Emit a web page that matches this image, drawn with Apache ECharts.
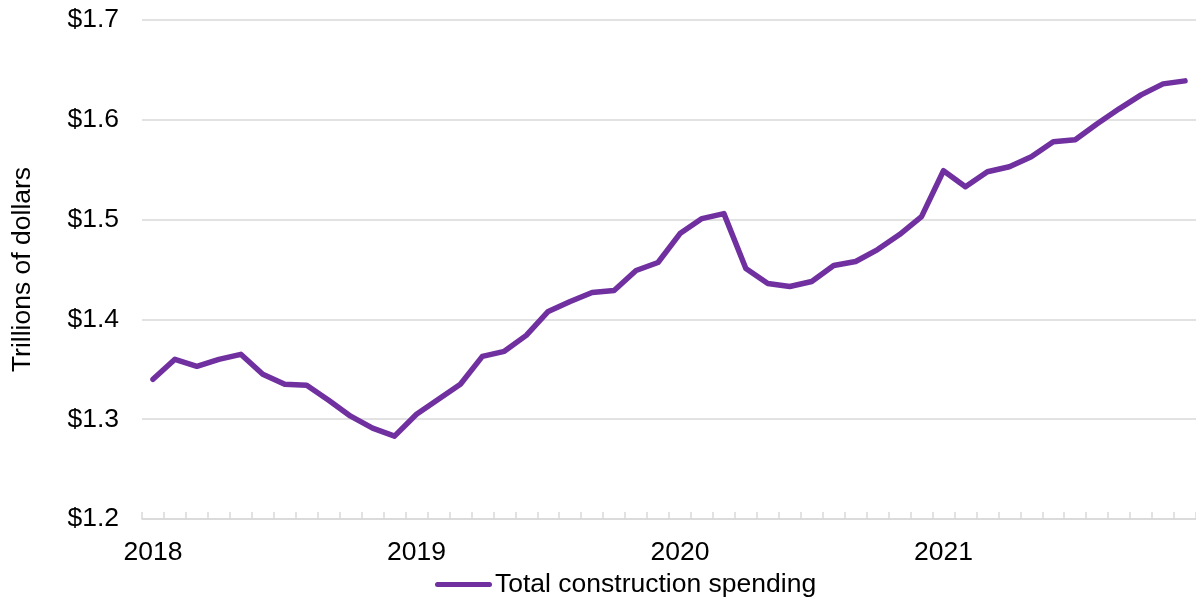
<!DOCTYPE html>
<html>
<head>
<meta charset="utf-8">
<title>Total construction spending</title>
<script src="https://cdn.jsdelivr.net/npm/echarts@6/dist/echarts.min.js"></script>
<style>
  html, body { margin: 0; padding: 0; background: #ffffff; }
  #chart { width: 1196px; height: 600px; }
</style>
</head>
<body>
<div id="chart"></div>
<script>
// Monthly categories, Jan 2018 – Dec 2021
const years = [2018, 2019, 2020, 2021];
const months = [];
years.forEach(y => { for (let m = 1; m <= 12; m++) months.push(y + '-' + String(m).padStart(2, '0')); });

// Total construction spending, seasonally adjusted annual rate (trillions of dollars)
const spending2018 = [1.340, 1.360, 1.353, 1.360, 1.365, 1.345, 1.335, 1.334, 1.319, 1.303, 1.291, 1.283];
const spending2019 = [1.305, 1.320, 1.335, 1.363, 1.368, 1.384, 1.408, 1.418, 1.427, 1.429, 1.449, 1.457];
const spending2020 = [1.486, 1.501, 1.506, 1.451, 1.436, 1.433, 1.438, 1.454, 1.458, 1.470, 1.485, 1.503];
const spending2021 = [1.549, 1.533, 1.548, 1.553, 1.563, 1.578, 1.580, 1.596, 1.611, 1.625, 1.636, 1.639];
const totalSpending = [].concat(spending2018, spending2019, spending2020, spending2021);

const seriesName = 'Total construction spending';
const yAxisName = 'Trillions of dollars';
const yTicks = [1.2, 1.3, 1.4, 1.5, 1.6, 1.7];

const FONT = '"Liberation Sans", Arial, sans-serif';
const FONT_SIZE = 26.5;
const PURPLE = '#7030a0';
const GRID_GRAY = '#d9d9d9';

const chart = echarts.init(document.getElementById('chart'), null, { renderer: 'canvas' });

chart.setOption({
  animation: false,
  backgroundColor: '#ffffff',
  textStyle: { fontFamily: FONT },
  grid: { left: 142, right: -3, top: 20, bottom: 81, containLabel: false },
  legend: {
    left: 430,
    top: 566,
    itemWidth: 57,
    itemHeight: 5,
    itemGap: 10,
    icon: 'path://M2.5,0 H54.5 A2.5,2.5 0 0 1 54.5,5 H2.5 A2.5,2.5 0 0 1 2.5,0 Z',
    textStyle: { fontFamily: FONT, fontSize: FONT_SIZE, color: '#000000', padding: [0, 0, 0, -2] },
    data: [{ name: seriesName, itemStyle: { color: PURPLE } }]
  },
  xAxis: {
    type: 'category',
    data: months,
    boundaryGap: true,
    axisLine: { show: true, lineStyle: { color: GRID_GRAY, width: 1.5 } },
    axisTick: {
      show: true,
      inside: true,
      length: 7,
      interval: 0,
      lineStyle: { color: GRID_GRAY, width: 1.5 }
    },
    axisLabel: {
      interval: (idx) => idx % 12 === 0,
      formatter: (v) => v.slice(0, 4),
      fontFamily: FONT,
      fontSize: FONT_SIZE,
      color: '#000000',
      margin: 20
    },
    splitLine: { show: false }
  },
  yAxis: {
    type: 'value',
    min: yTicks[0],
    max: yTicks[yTicks.length - 1],
    interval: 0.1,
    name: yAxisName,
    nameLocation: 'middle',
    nameGap: 106,
    nameTextStyle: { fontFamily: FONT, fontSize: FONT_SIZE, color: '#000000' },
    axisLine: { show: false },
    axisTick: { show: false },
    axisLabel: {
      formatter: (v) => '$' + v.toFixed(1),
      fontFamily: FONT,
      fontSize: FONT_SIZE,
      color: '#000000',
      margin: 23
    },
    splitLine: { show: true, lineStyle: { color: GRID_GRAY, width: 1.5 } }
  },
  series: [{
    name: seriesName,
    type: 'line',
    data: totalSpending,
    symbol: 'none',
    smooth: false,
    lineStyle: { color: PURPLE, width: 5.5, cap: 'round', join: 'round' },
    itemStyle: { color: PURPLE }
  }]
});
</script>
</body>
</html>
